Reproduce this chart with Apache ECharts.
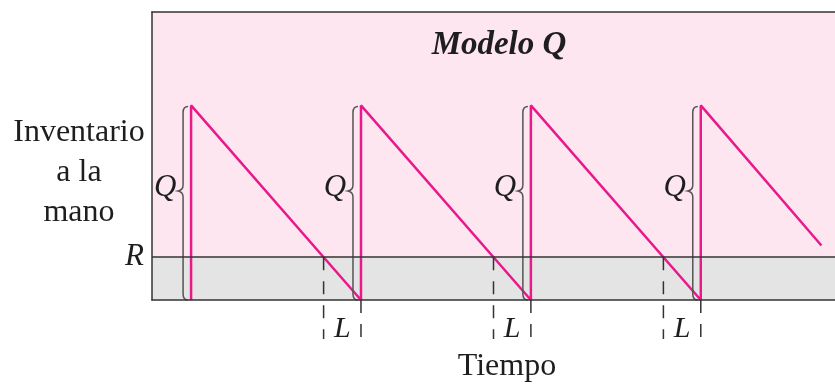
<!DOCTYPE html>
<html>
<head>
<meta charset="utf-8">
<title>Modelo Q</title>
<script src="https://cdn.jsdelivr.net/npm/echarts@6/dist/echarts.min.js"></script>
<style>
  html, body { margin: 0; padding: 0; background: #fff; }
  #chart { width: 835px; height: 385px; }
</style>
</head>
<body>
<div id="chart"></div>
<script>
// datos (tiempo en unidades arbitrarias, inventario con Q = 100)
const timeMax = 40.2
const stockMax = 148
const orderQty = 100        // Q
const reorderPoint = 22     // R
const braceTip = 56         // altura de la punta de la llave
const sawTime = [2.3, 2.3, 12.3, 12.3, 22.3, 22.3, 32.3, 32.3, 39.4]
const sawStock = [0, 100, 0, 100, 0, 100, 0, 100, 28]
const orderTimes = [2.3, 12.3, 22.3, 32.3]
const reorderTimes = [10.1, 20.1, 30.1]   // inventario cruza R
const arrivalTimes = [12.3, 22.3, 32.3]   // llega el pedido
const dashBottom = -20

const SERIF = '"Liberation Serif", "Times New Roman", serif'
const INK = '#1e1e1e'
const PINK = '#e9198b'

const chart = echarts.init(document.getElementById('chart'))

const sawData = sawTime.map((t, i) => [t, sawStock[i]])
const dashData = []
reorderTimes.forEach((t, i) => {
  dashData.push([t, reorderPoint])
  dashData.push([arrivalTimes[i], 0])
})
const leadData = reorderTimes.map((t, i) => [t, arrivalTimes[i]])

const plainAxis = {
  type: 'value',
  axisLine: { show: true, onZero: false, lineStyle: { color: '#333', width: 1.5 } },
  axisTick: { show: false },
  axisLabel: { show: false },
  splitLine: { show: false },
  z: 6
}

chart.setOption({
  animation: false,
  title: [
    {
      text: 'Modelo Q',
      left: 499, top: 26, textAlign: 'center', padding: 0,
      textStyle: { fontFamily: SERIF, fontSize: 33, fontStyle: 'italic', fontWeight: 'bold', color: INK, lineHeight: 38 }
    },
    {
      text: 'Inventario\na la\nmano',
      left: 79, top: 113, textAlign: 'center', padding: 0,
      textStyle: { fontFamily: SERIF, fontSize: 32, fontWeight: 'normal', color: INK, lineHeight: 40 }
    },
    {
      text: 'Tiempo',
      left: 507, top: 347, textAlign: 'center', padding: 0,
      textStyle: { fontFamily: SERIF, fontSize: 32, fontWeight: 'normal', color: INK, lineHeight: 40 }
    }
  ],
  grid: {
    left: 152, right: 0, top: 12, bottom: 85,
    show: true, backgroundColor: '#fde6f0', borderWidth: 0
  },
  xAxis: [
    Object.assign({}, plainAxis, { min: 0, max: timeMax, position: 'bottom' }),
    Object.assign({}, plainAxis, { min: 0, max: timeMax, position: 'top' })
  ],
  yAxis: Object.assign({}, plainAxis, { min: 0, max: stockMax }),
  series: [
    {
      name: 'Inventario',
      type: 'line',
      data: sawData,
      symbol: 'none',
      z: 3,
      lineStyle: { color: PINK, width: 2.5 },
      markArea: {
        silent: true,
        itemStyle: { color: '#e4e4e4' },
        data: [[{ yAxis: 0 }, { yAxis: reorderPoint }]]
      },
      markLine: {
        silent: true,
        symbol: 'none',
        lineStyle: { color: '#333', width: 1.5, type: 'solid' },
        label: {
          show: true, position: 'start', distance: 8, formatter: 'R',
          fontFamily: SERIF, fontSize: 31, fontStyle: 'italic', color: INK
        },
        data: [{ yAxis: reorderPoint }]
      }
    },
    {
      // lineas punteadas del tiempo de entrega
      type: 'custom',
      data: dashData,
      z: 4,
      silent: true,
      renderItem(params, api) {
        const top = api.coord([api.value(0), api.value(1)])
        const bot = api.coord([api.value(0), dashBottom])
        return {
          type: 'line',
          shape: { x1: top[0], y1: top[1], x2: bot[0], y2: bot[1] },
          style: { stroke: '#333', lineWidth: 1.5, lineDash: [13, 11] }
        }
      }
    },
    {
      // etiquetas L
      type: 'custom',
      data: leadData,
      z: 4,
      silent: true,
      renderItem(params, api) {
        const a = api.coord([api.value(0), 0])
        const b = api.coord([api.value(1), 0])
        return {
          type: 'text',
          style: {
            text: 'L', x: (a[0] + b[0]) / 2, y: a[1] + 29,
            align: 'center', verticalAlign: 'middle',
            font: 'italic 30px ' + SERIF, fill: INK
          }
        }
      }
    },
    {
      // llaves Q
      type: 'custom',
      data: orderTimes.map(t => [t]),
      z: 4,
      silent: true,
      renderItem(params, api) {
        const t = api.value(0)
        const top = api.coord([t, orderQty])
        const tip = api.coord([t, braceTip])
        const bot = api.coord([t, 0])
        const x = top[0] - 8
        const yT = top[1] + 1, yM = tip[1], yB = bot[1]
        const d = 'M' + (x + 5) + ' ' + yT +
          ' Q' + x + ' ' + yT + ' ' + x + ' ' + (yT + 6) +
          ' L' + x + ' ' + (yM - 6) +
          ' Q' + x + ' ' + (yM - 1) + ' ' + (x - 5) + ' ' + yM +
          ' Q' + x + ' ' + (yM + 1) + ' ' + x + ' ' + (yM + 6) +
          ' L' + x + ' ' + (yB - 6) +
          ' Q' + x + ' ' + yB + ' ' + (x + 5) + ' ' + yB
        return {
          type: 'group',
          children: [
            {
              type: 'path',
              shape: { pathData: d },
              style: { stroke: '#555', lineWidth: 1.5, fill: null }
            },
            {
              type: 'text',
              style: {
                text: 'Q', x: x - 18, y: yM - 3,
                align: 'center', verticalAlign: 'middle',
                font: 'italic 31px ' + SERIF, fill: INK
              }
            }
          ]
        }
      }
    }
  ]
})
</script>
</body>
</html>
